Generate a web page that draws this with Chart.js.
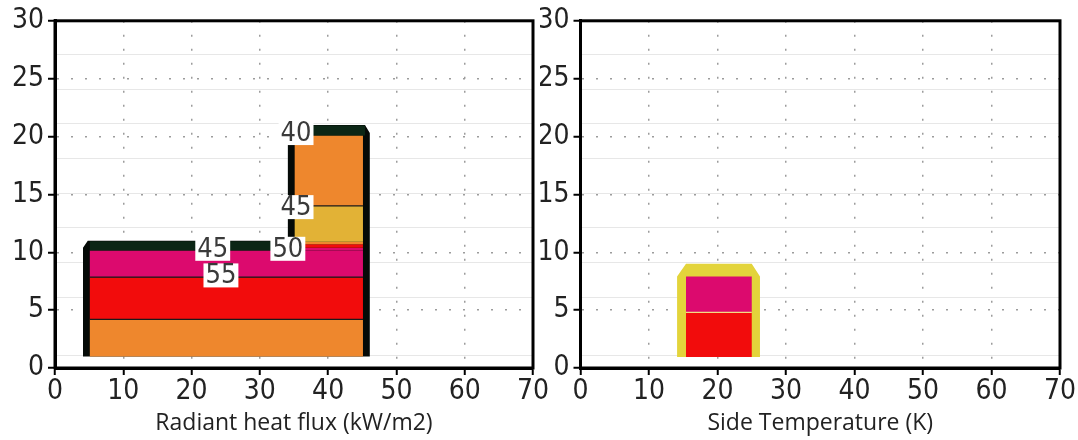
<!DOCTYPE html>
<html>
<head>
<meta charset="utf-8">
<script src="https://cdn.jsdelivr.net/npm/chart.js@4.4.0/dist/chart.umd.min.js"></script>
<style>
html, body { margin: 0; padding: 0; background: #fff; width: 1078px; height: 440px; overflow: hidden; }
.panel { position: absolute; top: 0; height: 440px; }
#left { left: 0; width: 560px; }
#right { left: 540px; width: 538px; }
</style>
</head>
<body>
<div class="panel" id="left"><canvas id="leftChart"></canvas></div>
<div class="panel" id="right"><canvas id="rightChart"></canvas></div>
<script>
// 軸の目盛り
var xTicks = [0, 10, 20, 30, 40, 50, 60, 70];
var yTicks = [0, 5, 10, 15, 20, 25, 30];
// 背景の薄い横線 (y値)
var sheetRows = [1.1, 6.1, 9.1, 12.1, 15.1, 18.1, 21.1, 24.1, 27.1];

// 左: Radiant heat flux
var leftFrameX = [4.1, 4.1, 4.8, 34.1, 34.1, 45.4, 46.1, 46.1];
var leftFrameY = [1.0, 10.4, 11.0, 11.0, 21.0, 21.0, 20.3, 1.0];
var leftLowerX = [5.1, 45.1];
var leftLowerEdges = [1.0, 4.2, 7.85, 10.15];
var leftLowerColors = ['#ee872d', '#f20c0c', '#dc0a6e'];
var leftUpperX = [35.1, 45.1];
var leftUpperEdges = [10.15, 10.4, 10.7, 10.9, 14.0, 20.1];
var leftUpperColors = ['#dc0a6e', '#f20c0c', '#ee872d', '#e2b236', '#ee872d'];
var leftCapX = [[5.1, 35.1], [35.1, 45.4]];
var leftCapY = [[10.15, 10.95], [20.1, 20.95]];
var leftLowerContours = [4.2, 7.85];
var leftUpperContours = [14.0];
var leftLabels = ['40', '45', '50', '45', '55'];
var leftLabelX = [35.3, 35.3, 34.1, 23.1, 24.3];
var leftLabelY = [20.3, 13.9, 10.3, 10.3, 8.0];

// 右: Side Temperature
var rightFrameX = [14.1, 14.1, 15.4, 25.0, 26.2, 26.2];
var rightFrameY = [0.95, 7.9, 9.0, 9.0, 7.9, 0.95];
var rightBandX = [15.4, 25.0];
var rightBandEdges = [0.95, 4.8, 7.9];
var rightBandColors = ['#f20c0c', '#dc0a6e'];

var tickFont = "'Liberation Sans Narrow', 'DejaVu Sans Condensed', 'Arial Narrow', sans-serif";

function polygon(xs, ys, color) {
    var pts = xs.map(function (x, i) { return {x: x, y: ys[i]}; });
    pts.push(pts[0]);
    return {data: pts, showLine: true, fill: 'shape', backgroundColor: color,
        borderColor: 'rgba(0,0,0,0)', borderWidth: 0, pointRadius: 0, tension: 0};
}

function band(x, y0, y1, color) {
    return polygon([x[0], x[0], x[1], x[1]], [y0, y1, y1, y0], color);
}

function contour(x, y, color) {
    return {data: [{x: x[0], y: y}, {x: x[1], y: y}], showLine: true, fill: false,
        borderColor: color, borderWidth: 1.2, pointRadius: 0};
}

// 描画順に並べて、先頭が一番下になるよう反転
function leftDatasets() {
    var list = [];
    list.push(polygon(leftFrameX, leftFrameY, '#050a07'));
    for (var i = 0; i < leftLowerColors.length; i++) {
        list.push(band(leftLowerX, leftLowerEdges[i], leftLowerEdges[i + 1], leftLowerColors[i]));
    }
    for (var j = 0; j < leftUpperColors.length; j++) {
        list.push(band(leftUpperX, leftUpperEdges[j], leftUpperEdges[j + 1], leftUpperColors[j]));
    }
    for (var k = 0; k < leftCapX.length; k++) {
        list.push(band(leftCapX[k], leftCapY[k][0], leftCapY[k][1], '#0b2615'));
    }
    leftLowerContours.forEach(function (y) { list.push(contour(leftLowerX, y, '#1a1a1a')); });
    leftUpperContours.forEach(function (y) { list.push(contour(leftUpperX, y, '#1a1a1a')); });
    return list.reverse();
}

function rightDatasets() {
    var list = [];
    list.push(polygon(rightFrameX, rightFrameY, '#e3d43b'));
    for (var i = 0; i < rightBandColors.length; i++) {
        list.push(band(rightBandX, rightBandEdges[i], rightBandEdges[i + 1], rightBandColors[i]));
    }
    list.push(contour(rightBandX, rightBandEdges[1], '#f3dc84'));
    return list.reverse();
}

// プロット枠
var frameBox = {
    id: 'frameBox',
    afterDraw: function (chart) {
        var a = chart.chartArea, c = chart.ctx;
        c.save();
        c.strokeStyle = '#000';
        c.lineWidth = 3;
        c.strokeRect(a.left, a.top, a.right - a.left, a.bottom - a.top);
        c.restore();
    }
};

// 等高線ラベル
var contourLabels = {
    id: 'contourLabels',
    afterDatasetsDraw: function (chart, args, opts) {
        if (!opts.texts) return;
        var c = chart.ctx;
        c.save();
        c.font = '27px ' + tickFont;
        c.textAlign = 'center';
        c.textBaseline = 'middle';
        for (var i = 0; i < opts.texts.length; i++) {
            var px = chart.scales.x.getPixelForValue(opts.xs[i]);
            var py = chart.scales.y.getPixelForValue(opts.ys[i]);
            var w = c.measureText(opts.texts[i]).width + 4;
            c.fillStyle = '#fff';
            c.fillRect(px - w / 2, py - 12, w, 24);
            c.fillStyle = '#3a3a3a';
            c.fillText(opts.texts[i], px, py + 1);
        }
        c.restore();
    }
};

function gridColor(edges) {
    return function (ctx) {
        var v = ctx.tick ? ctx.tick.value : null;
        return edges.indexOf(v) >= 0 ? 'rgba(0,0,0,0)' : '#9c9c9c';
    };
}

function makeOptions(title, yWidth, padRight, labels) {
    return {
        responsive: true,
        maintainAspectRatio: false,
        animation: false,
        layout: {padding: {left: 0, top: 20, right: padRight, bottom: 0}},
        plugins: {
            legend: {display: false},
            tooltip: {enabled: false},
            contourLabels: labels
        },
        scales: {
            x: {
                type: 'linear', min: 0, max: 70,
                afterBuildTicks: function (s) { s.ticks = xTicks.map(function (v) { return {value: v}; }); },
                ticks: {font: {family: tickFont, size: 28}, color: '#222', padding: 0, autoSkip: false, maxRotation: 0},
                grid: {color: gridColor([0, 70]), lineWidth: 1.5, tickColor: '#000', tickWidth: 2, tickLength: 7, borderDash: [2, 12]},
                border: {color: '#000', width: 3, dash: [2, 12]},
                title: {display: true, text: title, font: {family: 'Open Sans', size: 23}, color: '#222', padding: {top: 0, bottom: 3}},
                afterFit: function (s) { s.height = 72; }
            },
            y: {
                type: 'linear', min: 0, max: 30,
                afterBuildTicks: function (s) { s.ticks = yTicks.map(function (v) { return {value: v}; }); },
                ticks: {font: {family: tickFont, size: 28}, color: '#222', padding: 4},
                grid: {color: gridColor([0, 30]), lineWidth: 1.5, tickColor: '#000', tickWidth: 2, tickLength: 7, borderDash: [2, 12]},
                border: {color: '#000', width: 3, dash: [2, 12]},
                afterFit: function (s) { s.width = yWidth; }
            },
            y2: {
                type: 'linear', min: 0, max: 30, position: 'right', z: 1,
                afterBuildTicks: function (s) { s.ticks = sheetRows.map(function (v) { return {value: v}; }); },
                ticks: {display: false},
                grid: {color: 'rgba(215,215,215,0.6)', lineWidth: 1, drawTicks: false},
                border: {display: false},
                afterFit: function (s) { s.width = 0; }
            }
        }
    };
}

new Chart(document.getElementById('leftChart').getContext('2d'), {
    type: 'scatter',
    data: {datasets: leftDatasets()},
    options: makeOptions('Radiant heat flux (kW/m2)', 55, 27, {texts: leftLabels, xs: leftLabelX, ys: leftLabelY}),
    plugins: [frameBox, contourLabels]
});

new Chart(document.getElementById('rightChart').getContext('2d'), {
    type: 'scatter',
    data: {datasets: rightDatasets()},
    options: makeOptions('Side Temperature (K)', 40.5, 18, {}),
    plugins: [frameBox, contourLabels]
});
</script>
</body>
</html>
